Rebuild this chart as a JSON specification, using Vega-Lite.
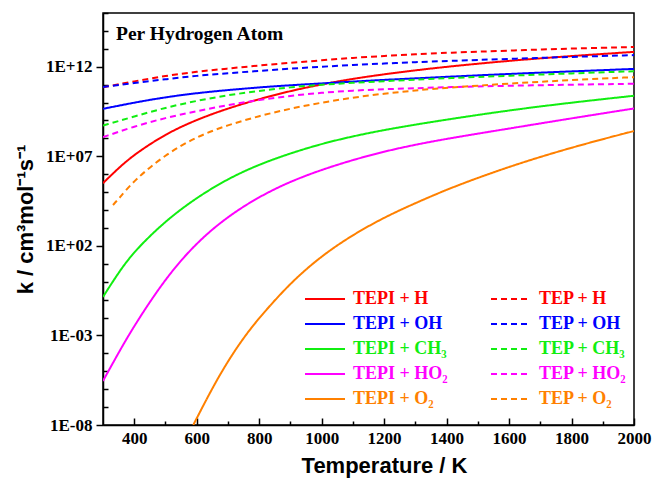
{
  "$schema": "https://vega.github.io/schema/vega-lite/v6.json",
  "width": 531,
  "height": 412,
  "autosize": "none",
  "padding": {"left": 103, "top": 13, "right": 19, "bottom": 56},
  "background": "white",
  "config": {
    "view": {"stroke": "black", "strokeWidth": 1.5},
    "axis": {"grid": false, "domainColor": "black", "domainWidth": 1.5, "tickColor": "black", "tickWidth": 1.5,
      "labelFont": "Liberation Serif", "labelFontWeight": "bold", "labelFontSize": 17, "labelColor": "black",
      "titleFont": "Liberation Sans", "titleFontWeight": "bold", "titleFontSize": 22, "titleColor": "black"}
  },
  "title": {"text": "Per Hydrogen Atom", "anchor": "start", "frame": "group", "offset": -32, "dx": 13,
    "font": "Liberation Serif", "fontWeight": "bold", "fontSize": 19.5, "color": "black"},
  "data": {"values": [
    {"s": "TEPI + H", "T": 300, "k": 3.16e5}, {"s": "TEPI + H", "T": 350, "k": 2.24e6}, {"s": "TEPI + H", "T": 400, "k": 1.26e7}, {"s": "TEPI + H", "T": 500, "k": 1.78e8}, {"s": "TEPI + H", "T": 600, "k": 1.12e9}, {"s": "TEPI + H", "T": 700, "k": 4.79e9}, {"s": "TEPI + H", "T": 800, "k": 1.58e10}, {"s": "TEPI + H", "T": 900, "k": 4.47e10}, {"s": "TEPI + H", "T": 1000, "k": 1.05e11}, {"s": "TEPI + H", "T": 1100, "k": 2.14e11}, {"s": "TEPI + H", "T": 1200, "k": 3.8e11}, {"s": "TEPI + H", "T": 1300, "k": 6.31e11}, {"s": "TEPI + H", "T": 1400, "k": 1e12}, {"s": "TEPI + H", "T": 1600, "k": 2.19e12}, {"s": "TEPI + H", "T": 1800, "k": 3.98e12}, {"s": "TEPI + H", "T": 2000, "k": 6.76e12},
    {"s": "TEP + H", "T": 300, "k": 7.08e10}, {"s": "TEP + H", "T": 400, "k": 1.55e11}, {"s": "TEP + H", "T": 500, "k": 3.09e11}, {"s": "TEP + H", "T": 600, "k": 5.37e11}, {"s": "TEP + H", "T": 700, "k": 7.94e11}, {"s": "TEP + H", "T": 800, "k": 1.17e12}, {"s": "TEP + H", "T": 900, "k": 1.66e12}, {"s": "TEP + H", "T": 1000, "k": 2.29e12}, {"s": "TEP + H", "T": 1100, "k": 3.16e12}, {"s": "TEP + H", "T": 1200, "k": 3.98e12}, {"s": "TEP + H", "T": 1300, "k": 5.01e12}, {"s": "TEP + H", "T": 1400, "k": 6.03e12}, {"s": "TEP + H", "T": 1600, "k": 7.94e12}, {"s": "TEP + H", "T": 1800, "k": 1.05e13}, {"s": "TEP + H", "T": 2000, "k": 1.26e13},
    {"s": "TEPI + OH", "T": 300, "k": 4.47e9}, {"s": "TEPI + OH", "T": 400, "k": 1e10}, {"s": "TEPI + OH", "T": 500, "k": 2.0e10}, {"s": "TEPI + OH", "T": 600, "k": 3.39e10}, {"s": "TEPI + OH", "T": 700, "k": 5.01e10}, {"s": "TEPI + OH", "T": 800, "k": 7.08e10}, {"s": "TEPI + OH", "T": 900, "k": 9.33e10}, {"s": "TEPI + OH", "T": 1000, "k": 1.17e11}, {"s": "TEPI + OH", "T": 1100, "k": 1.48e11}, {"s": "TEPI + OH", "T": 1200, "k": 1.86e11}, {"s": "TEPI + OH", "T": 1300, "k": 2.24e11}, {"s": "TEPI + OH", "T": 1400, "k": 2.75e11}, {"s": "TEPI + OH", "T": 1600, "k": 3.98e11}, {"s": "TEPI + OH", "T": 1800, "k": 5.5e11}, {"s": "TEPI + OH", "T": 2000, "k": 7.59e11},
    {"s": "TEP + OH", "T": 300, "k": 7.41e10}, {"s": "TEP + OH", "T": 400, "k": 1.26e11}, {"s": "TEP + OH", "T": 500, "k": 2.0e11}, {"s": "TEP + OH", "T": 600, "k": 3.16e11}, {"s": "TEP + OH", "T": 700, "k": 4.37e11}, {"s": "TEP + OH", "T": 800, "k": 5.89e11}, {"s": "TEP + OH", "T": 900, "k": 7.94e11}, {"s": "TEP + OH", "T": 1000, "k": 1e12}, {"s": "TEP + OH", "T": 1100, "k": 1.26e12}, {"s": "TEP + OH", "T": 1200, "k": 1.51e12}, {"s": "TEP + OH", "T": 1300, "k": 1.82e12}, {"s": "TEP + OH", "T": 1400, "k": 2.09e12}, {"s": "TEP + OH", "T": 1600, "k": 2.75e12}, {"s": "TEP + OH", "T": 1800, "k": 3.55e12}, {"s": "TEP + OH", "T": 2000, "k": 4.47e12},
    {"s": "TEPI + CH₃", "T": 300, "k": 0.141}, {"s": "TEPI + CH₃", "T": 350, "k": 3.31}, {"s": "TEPI + CH₃", "T": 400, "k": 50.1}, {"s": "TEPI + CH₃", "T": 500, "k": 2510}, {"s": "TEPI + CH₃", "T": 600, "k": 5.01e4}, {"s": "TEPI + CH₃", "T": 700, "k": 5.62e5}, {"s": "TEPI + CH₃", "T": 800, "k": 3.55e6}, {"s": "TEPI + CH₃", "T": 900, "k": 1.48e7}, {"s": "TEPI + CH₃", "T": 1000, "k": 5.01e7}, {"s": "TEPI + CH₃", "T": 1100, "k": 1.32e8}, {"s": "TEPI + CH₃", "T": 1200, "k": 2.95e8}, {"s": "TEPI + CH₃", "T": 1300, "k": 5.89e8}, {"s": "TEPI + CH₃", "T": 1400, "k": 1.12e9}, {"s": "TEPI + CH₃", "T": 1600, "k": 3.72e9}, {"s": "TEPI + CH₃", "T": 1800, "k": 1e10}, {"s": "TEPI + CH₃", "T": 2000, "k": 2.4e10},
    {"s": "TEP + CH₃", "T": 300, "k": 5.25e8}, {"s": "TEP + CH₃", "T": 400, "k": 1.66e9}, {"s": "TEP + CH₃", "T": 500, "k": 5.25e9}, {"s": "TEP + CH₃", "T": 600, "k": 1.26e10}, {"s": "TEP + CH₃", "T": 700, "k": 2.63e10}, {"s": "TEP + CH₃", "T": 800, "k": 4.47e10}, {"s": "TEP + CH₃", "T": 900, "k": 7.24e10}, {"s": "TEP + CH₃", "T": 1000, "k": 1e11}, {"s": "TEP + CH₃", "T": 1100, "k": 1.26e11}, {"s": "TEP + CH₃", "T": 1200, "k": 1.58e11}, {"s": "TEP + CH₃", "T": 1300, "k": 1.91e11}, {"s": "TEP + CH₃", "T": 1400, "k": 2.29e11}, {"s": "TEP + CH₃", "T": 1600, "k": 3.16e11}, {"s": "TEP + CH₃", "T": 1800, "k": 4.27e11}, {"s": "TEP + CH₃", "T": 2000, "k": 5.62e11},
    {"s": "TEPI + HO₂", "T": 300, "k": 2.88e-6}, {"s": "TEPI + HO₂", "T": 350, "k": 1.1e-4}, {"s": "TEPI + HO₂", "T": 400, "k": 3.55e-3}, {"s": "TEPI + HO₂", "T": 500, "k": 1.58}, {"s": "TEPI + HO₂", "T": 600, "k": 158}, {"s": "TEPI + HO₂", "T": 700, "k": 4470}, {"s": "TEPI + HO₂", "T": 800, "k": 5.62e4}, {"s": "TEPI + HO₂", "T": 900, "k": 3.98e5}, {"s": "TEPI + HO₂", "T": 1000, "k": 1.78e6}, {"s": "TEPI + HO₂", "T": 1100, "k": 6.31e6}, {"s": "TEPI + HO₂", "T": 1200, "k": 1.86e7}, {"s": "TEPI + HO₂", "T": 1300, "k": 4.47e7}, {"s": "TEPI + HO₂", "T": 1400, "k": 9.55e7}, {"s": "TEPI + HO₂", "T": 1600, "k": 3.55e8}, {"s": "TEPI + HO₂", "T": 1800, "k": 1.32e9}, {"s": "TEPI + HO₂", "T": 2000, "k": 4.68e9},
    {"s": "TEP + HO₂", "T": 300, "k": 1.17e8}, {"s": "TEP + HO₂", "T": 400, "k": 4.68e8}, {"s": "TEP + HO₂", "T": 500, "k": 1.41e9}, {"s": "TEP + HO₂", "T": 600, "k": 3.31e9}, {"s": "TEP + HO₂", "T": 700, "k": 7.41e9}, {"s": "TEP + HO₂", "T": 800, "k": 1.41e10}, {"s": "TEP + HO₂", "T": 900, "k": 2.4e10}, {"s": "TEP + HO₂", "T": 1000, "k": 3.55e10}, {"s": "TEP + HO₂", "T": 1100, "k": 4.68e10}, {"s": "TEP + HO₂", "T": 1200, "k": 5.62e10}, {"s": "TEP + HO₂", "T": 1300, "k": 6.31e10}, {"s": "TEP + HO₂", "T": 1400, "k": 7.24e10}, {"s": "TEP + HO₂", "T": 1600, "k": 8.71e10}, {"s": "TEP + HO₂", "T": 1800, "k": 1e11}, {"s": "TEP + HO₂", "T": 2000, "k": 1.12e11},
    {"s": "TEPI + O₂", "T": 589, "k": 1e-8}, {"s": "TEPI + O₂", "T": 650, "k": 1.17e-6}, {"s": "TEPI + O₂", "T": 700, "k": 3.72e-5}, {"s": "TEPI + O₂", "T": 750, "k": 7.41e-4}, {"s": "TEPI + O₂", "T": 800, "k": 9.77e-3}, {"s": "TEPI + O₂", "T": 900, "k": 0.871}, {"s": "TEPI + O₂", "T": 1000, "k": 28.2}, {"s": "TEPI + O₂", "T": 1100, "k": 417}, {"s": "TEPI + O₂", "T": 1200, "k": 3890}, {"s": "TEPI + O₂", "T": 1300, "k": 2.45e4}, {"s": "TEPI + O₂", "T": 1400, "k": 1.38e5}, {"s": "TEPI + O₂", "T": 1500, "k": 6.31e5}, {"s": "TEPI + O₂", "T": 1600, "k": 2.57e6}, {"s": "TEPI + O₂", "T": 1700, "k": 9.33e6}, {"s": "TEPI + O₂", "T": 1800, "k": 3.02e7}, {"s": "TEPI + O₂", "T": 1900, "k": 9.12e7}, {"s": "TEPI + O₂", "T": 2000, "k": 2.57e8},
    {"s": "TEP + O₂", "T": 332, "k": 1.91e4}, {"s": "TEP + O₂", "T": 350, "k": 4.17e4}, {"s": "TEP + O₂", "T": 400, "k": 4.68e5}, {"s": "TEP + O₂", "T": 500, "k": 1.26e7}, {"s": "TEP + O₂", "T": 600, "k": 1.26e8}, {"s": "TEP + O₂", "T": 700, "k": 5.62e8}, {"s": "TEP + O₂", "T": 800, "k": 1.78e9}, {"s": "TEP + O₂", "T": 900, "k": 4.68e9}, {"s": "TEP + O₂", "T": 1000, "k": 1e10}, {"s": "TEP + O₂", "T": 1100, "k": 1.91e10}, {"s": "TEP + O₂", "T": 1200, "k": 3.16e10}, {"s": "TEP + O₂", "T": 1300, "k": 4.79e10}, {"s": "TEP + O₂", "T": 1400, "k": 6.76e10}, {"s": "TEP + O₂", "T": 1600, "k": 1.15e11}, {"s": "TEP + O₂", "T": 1800, "k": 1.82e11}, {"s": "TEP + O₂", "T": 2000, "k": 2.63e11}
  ]},
  "mark": {"type": "line", "interpolate": "basis", "strokeWidth": 2, "clip": true},
  "encoding": {
    "x": {"field": "T", "type": "quantitative", "scale": {"domain": [300, 2000], "nice": false, "zero": false},
      "axis": {"title": "Temperature / K", "values": [400, 500, 600, 700, 800, 900, 1000, 1100, 1200, 1300, 1400, 1500, 1600, 1700, 1800, 1900, 2000],
        "labelExpr": "datum.value % 200 == 0 ? datum.value : ''",
        "tickSize": {"condition": {"test": "datum.value % 200 == 0", "value": -7}, "value": -4},
        "labelPadding": 12, "titlePadding": 9, "titleX": 281, "labelFlush": false}},
    "y": {"field": "k", "type": "quantitative", "scale": {"type": "log", "domain": [1e-8, 1e15], "nice": false},
      "axis": {"title": "k / cm³mol⁻¹s⁻¹",
        "values": [1e-8, 1e-7, 1e-6, 1e-5, 1e-4, 1e-3, 1e-2, 1e-1, 1, 10, 100, 1e3, 1e4, 1e5, 1e6, 1e7, 1e8, 1e9, 1e10, 1e11, 1e12, 1e13, 1e14, 1e15],
        "labelExpr": "(round(log(datum.value)/LN10)+8) % 5 == 0 ? ('1E' + (datum.value >= 1 ? '+' : '-') + (abs(round(log(datum.value)/LN10)) < 10 ? '0' : '') + abs(round(log(datum.value)/LN10))) : ''",
        "tickSize": {"condition": {"test": "(round(log(datum.value)/LN10)+8) % 5 == 0", "value": 7}, "value": -5},
        "labelPadding": 4, "titlePadding": 8, "labelFlush": false}},
    "color": {"field": "s", "type": "nominal",
      "scale": {"domain": ["TEPI + H", "TEPI + OH", "TEPI + CH₃", "TEPI + HO₂", "TEPI + O₂", "TEP + H", "TEP + OH", "TEP + CH₃", "TEP + HO₂", "TEP + O₂"],
        "range": ["#ff0000", "#0000ff", "#11ee11", "#ff00ff", "#ff8000", "#ff0000", "#0000ff", "#11ee11", "#ff00ff", "#ff8000"]},
      "legend": {"title": null, "orient": "none", "legendX": 198, "legendY": 277, "columns": 2, "symbolType": "M-4,0H4", "symbolSize": 100,
        "symbolOffset": 15, "symbolStrokeWidth": 2, "labelFont": "Liberation Serif", "labelFontWeight": "bold", "labelFontSize": 18, "labelOffset": 19,
        "rowPadding": 7, "columnPadding": 39, "padding": 0, "labelLimit": 300,
        "encode": {"labels": {"update": {"fill": {"scale": "color", "field": "value"}}}}}},
    "strokeDash": {"field": "s", "type": "nominal",
      "scale": {"domain": ["TEPI + H", "TEPI + OH", "TEPI + CH₃", "TEPI + HO₂", "TEPI + O₂", "TEP + H", "TEP + OH", "TEP + CH₃", "TEP + HO₂", "TEP + O₂"],
        "range": [[1, 0], [1, 0], [1, 0], [1, 0], [1, 0], [6, 4], [6, 4], [6, 4], [6, 4], [6, 4]]}}
  }
}
